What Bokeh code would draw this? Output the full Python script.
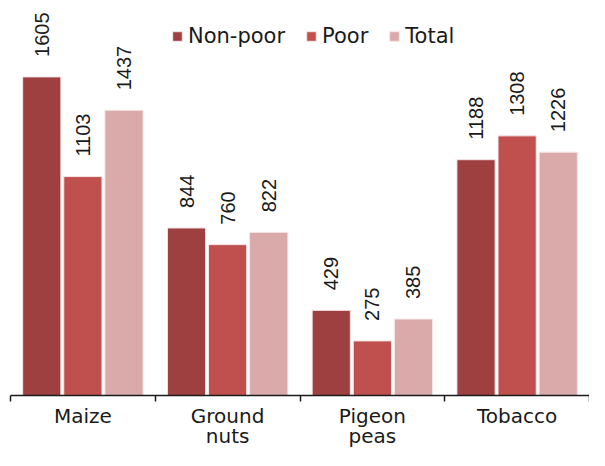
import numpy as np
from bokeh.plotting import figure
from bokeh.models import (ColumnDataSource, Range1d, FixedTicker, Legend,
                          LegendItem, LinearAxis, LabelSet)
from bokeh.core.properties import value
from bokeh.transform import dodge
from bokeh.embed import file_html
from bokeh.resources import INLINE

categories = ["Maize", "Ground\nnuts", "Pigeon\npeas", "Tobacco"]
series = ["Non-poor", "Poor", "Total"]
non_poor = [1605, 844, 429, 1188]
poor = [1103, 760, 275, 1308]
total = [1437, 822, 385, 1226]
colors = ["#9E4040", "#C0504D", "#DAA9A9"]

FONT = "DejaVu Sans"
NUM_FONT = "Liberation Sans"
TXT = "#1A1A1A"

centers = np.arange(len(categories)) + 0.5
src = ColumnDataSource(dict(
    x=centers,
    non_poor=non_poor, poor=poor, total=total,
    non_poor_lbl=[str(v) for v in non_poor],
    poor_lbl=[str(v) for v in poor],
    total_lbl=[str(v) for v in total],
))

p = figure(width=589, height=450,
           x_range=Range1d(0, len(categories)), y_range=Range1d(0, 1990),
           output_backend="svg", toolbar_location=None,
           x_axis_location=None, y_axis_location=None,
           min_border_left=10, min_border_right=0, min_border_top=0,
           min_border_bottom=52)
p.grid.visible = False
p.outline_line_color = None
p.background_fill_color = "white"

offs = [-0.284, 0.0, 0.284]
cols = ["non_poor", "poor", "total"]
items = []
for name, col, off, colr in zip(series, cols, offs, colors):
    r = p.vbar(x=dodge("x", off), top=col, width=0.264, source=src,
               fill_color=colr, line_color="#F6E6E6", line_width=1)
    items.append(LegendItem(label=name, renderers=[r]))
    lbl = LabelSet(x=dodge("x", off), y=col, text=col + "_lbl", source=src,
                   angle=np.pi / 2, y_offset=20, text_align="left",
                   text_baseline="middle", text_font=value(NUM_FONT),
                   text_font_size="20px", text_color=TXT)
    p.add_layout(lbl)

legend = Legend(items=items, orientation="horizontal", location=(161, 347),
                glyph_width=12, glyph_height=12, label_standoff=5, spacing=20,
                padding=0, margin=0, border_line_color=None,
                background_fill_alpha=0, label_text_font=FONT,
                label_text_font_size="21px", label_text_color=TXT)
p.add_layout(legend)

xaxis = LinearAxis(
    ticker=FixedTicker(ticks=list(centers), minor_ticks=list(range(len(categories) + 1))),
    major_label_overrides={float(c): lab for c, lab in zip(centers, categories)},
    axis_line_color="#1A1A1A", axis_line_width=1.5,
    major_tick_line_color=None, major_tick_in=0, major_tick_out=0,
    minor_tick_line_color="#1A1A1A", minor_tick_line_width=1.5,
    minor_tick_in=0, minor_tick_out=6,
    major_label_standoff=2, major_label_text_font=FONT,
    major_label_text_font_size="20px", major_label_text_color=TXT,
    major_label_text_line_height=0.85,
)
p.add_layout(xaxis, "below")

open("out.html", "w").write(file_html(p, INLINE))
